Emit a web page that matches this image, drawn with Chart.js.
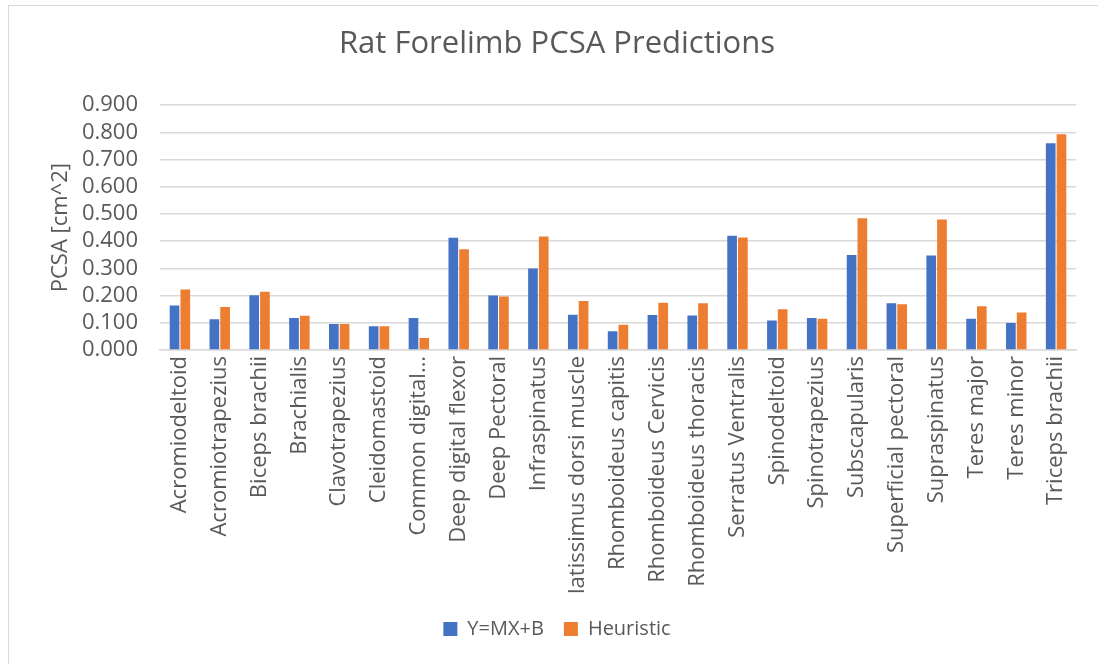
<!DOCTYPE html>
<html>
<head>
<meta charset="utf-8">
<script src="https://cdn.jsdelivr.net/npm/chart.js@4"></script>
<style>
  html, body { margin: 0; padding: 0; background: #ffffff; overflow: hidden; }
  #frame { position: absolute; left: 8px; top: 5px; width: 1200px; height: 800px;
           border: 1.5px solid #d9d9d9; box-sizing: border-box; }
  #wrap { position: absolute; left: 0; top: 0; width: 1098px; height: 664px; }
</style>
</head>
<body>
<div id="frame"></div>
<div id="wrap"><canvas id="chart" width="1098" height="664"></canvas></div>
<script>
// Muscles of the rat forelimb
const muscles = [
  "Acromiodeltoid", "Acromiotrapezius", "Biceps brachii", "Brachialis",
  "Clavotrapezius", "Cleidomastoid", "Common digital…", "Deep digital flexor",
  "Deep Pectoral", "Infraspinatus", "latissimus dorsi muscle", "Rhomboideus capitis",
  "Rhomboideus Cervicis", "Rhomboideus thoracis", "Serratus Ventralis", "Spinodeltoid",
  "Spinotrapezius", "Subscapularis", "Superficial pectoral", "Supraspinatus",
  "Teres major", "Teres minor", "Triceps brachii"
];

// Predicted PCSA (cm^2) from the linear fit
const linearFit = [
  0.164, 0.113, 0.201, 0.118, 0.096, 0.087, 0.118, 0.413,
  0.200, 0.300, 0.130, 0.069, 0.129, 0.127, 0.420, 0.108,
  0.118, 0.349, 0.172, 0.347, 0.115, 0.099, 0.760
];

// Predicted PCSA (cm^2) from the heuristic
const heuristic = [
  0.222, 0.158, 0.214, 0.126, 0.096, 0.087, 0.044, 0.370,
  0.197, 0.417, 0.180, 0.093, 0.174, 0.172, 0.414, 0.150,
  0.115, 0.484, 0.168, 0.480, 0.161, 0.138, 0.793
];

const seriesNames = ["Y=MX+B", "Heuristic"];
const yTicks = { min: 0, max: 0.9, step: 0.1 };

const FONT = "'Open Sans', 'Liberation Sans', sans-serif";
const TEXT = "#595959";
const GRID = "#d9d9d9";

new Chart(document.getElementById("chart"), {
  type: "bar",
  data: {
    labels: muscles,
    datasets: [
      { label: seriesNames[0], data: linearFit, backgroundColor: "#4472C4",
        categoryPercentage: 0.54, barPercentage: 0.9 },
      { label: seriesNames[1], data: heuristic, backgroundColor: "#ED7D31",
        categoryPercentage: 0.54, barPercentage: 0.9 }
    ]
  },
  options: {
    responsive: false,
    animation: false,
    layout: { padding: { left: 38, right: 22, top: 26, bottom: 15 } },
    plugins: {
      title: {
        display: true,
        text: "Rat Forelimb PCSA Predictions",
        color: TEXT,
        font: { family: FONT, size: 31, weight: "normal" },
        padding: { top: 0, bottom: 42 }
      },
      legend: {
        position: "bottom",
        labels: {
          color: TEXT,
          font: { family: FONT, size: 20 },
          boxWidth: 14, boxHeight: 14,
          padding: 20
        }
      },
      tooltip: { enabled: false }
    },
    scales: {
      x: {
        grid: { display: false, drawTicks: false },
        border: { display: true, color: GRID, width: 1.5 },
        ticks: {
          color: TEXT, font: { family: FONT, size: 22 },
          minRotation: 90, maxRotation: 90, autoSkip: false, padding: 6
        },
        afterFit(scale) { scale.height = 249; }
      },
      y: {
        min: yTicks.min, max: yTicks.max,
        grid: { color: GRID, lineWidth: 1.5, drawTicks: false },
        border: { display: false },
        ticks: {
          stepSize: yTicks.step, color: TEXT, autoSkip: false,
          font: { family: FONT, size: 22 }, padding: 22,
          callback: v => v.toFixed(3)
        },
        title: {
          display: true, text: "PCSA [cm^2]", color: TEXT,
          font: { family: FONT, size: 22 }, padding: { top: 10, bottom: 0 }
        },
        afterFit(scale) { scale.width = 122; }
      }
    }
  }
});
</script>
</body>
</html>
